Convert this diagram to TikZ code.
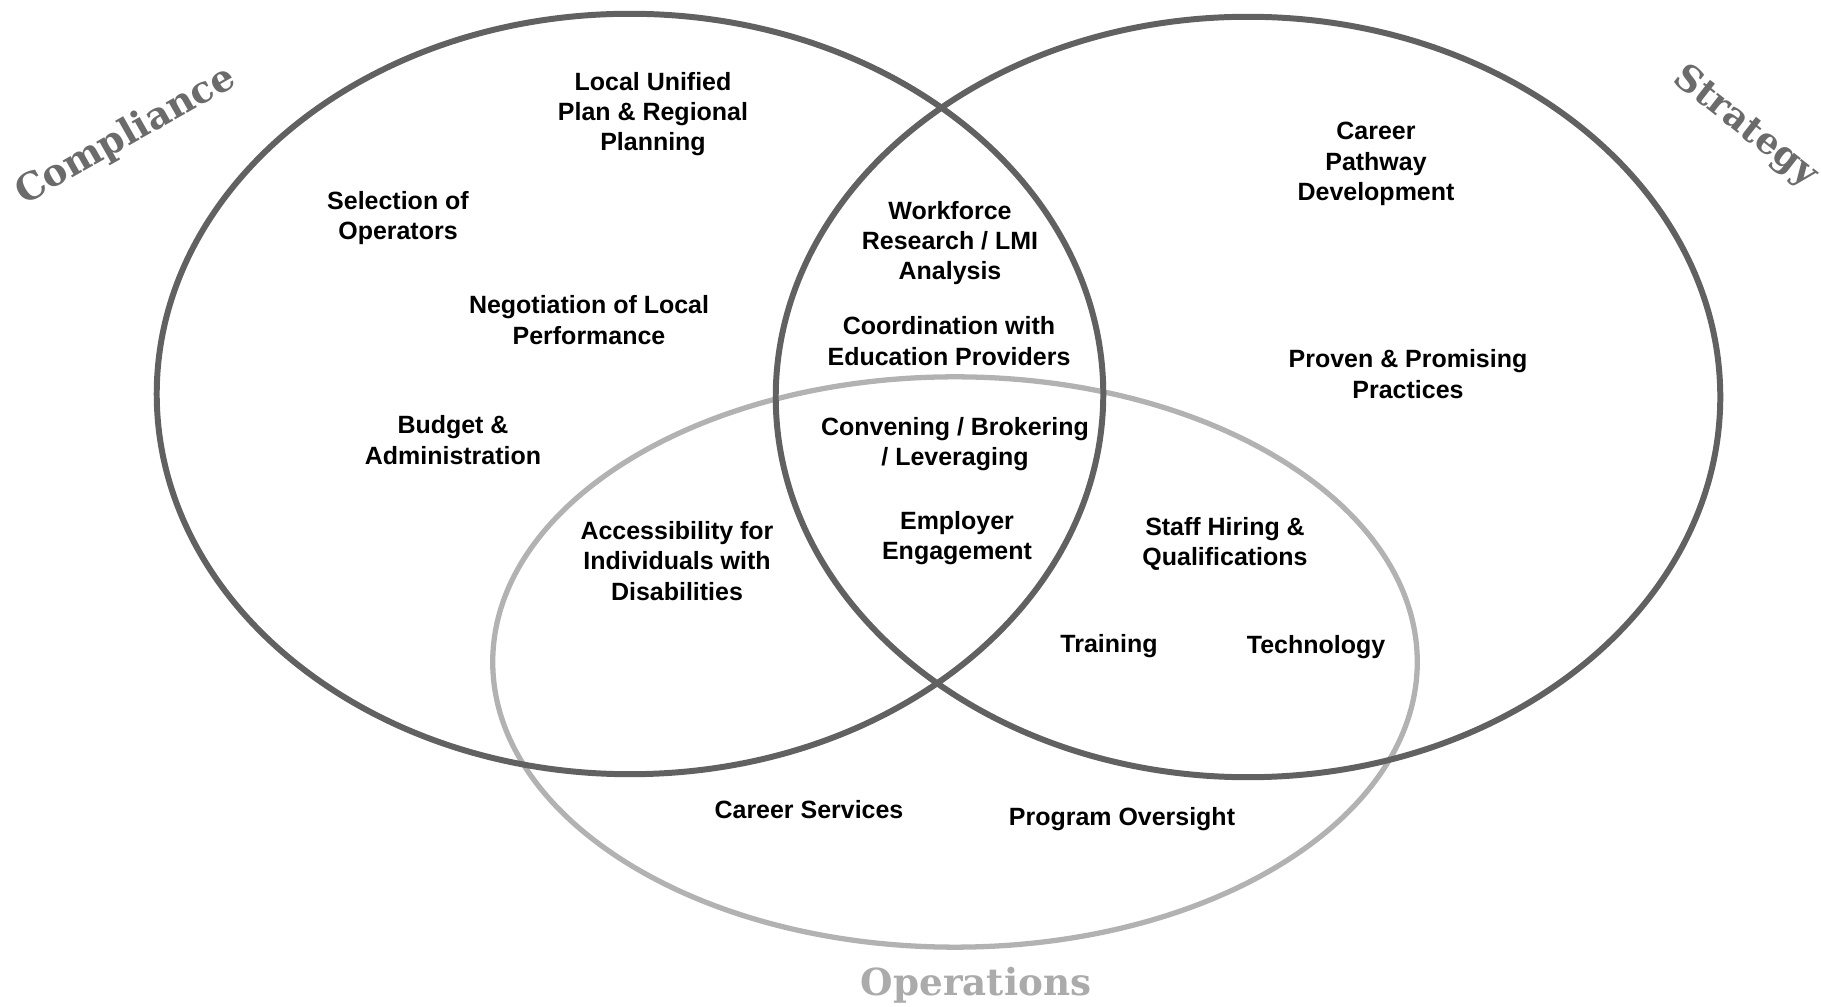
\documentclass[tikz,border=0pt]{standalone}
\usepackage{fontspec}
\setmainfont{Liberation Sans}
\newfontfamily\slabfont{DejaVu Serif}
\usepackage{xcolor}
\usepackage{tikz}

\begin{document}
\begin{tikzpicture}[
  x=0.01cm, y=-0.01cm,
  ring/.style={line width=1.7pt, draw=black!62},
  opring/.style={line width=1.5pt, draw=black!30},
  item/.style={font=\fontsize{7.1}{8.6}\selectfont\bfseries, align=center, inner sep=1pt},
  title/.style={font=\fontsize{10.6}{12}\slabfont\bfseries, text=black!58, inner sep=0pt},
]
\useasboundingbox (0,0) rectangle (1821,1007);
% the three sets
\draw[opring] (955,662) ellipse [x radius=4.62cm, y radius=2.85cm];
\draw[ring] (630,394) ellipse [x radius=4.73cm, y radius=3.8cm];
\draw[ring] (1248,397) ellipse [x radius=4.72cm, y radius=3.8cm];

\node[title, rotate=29.5] (compliance) at (126,136) {Compliance};
\node[title, font=\fontsize{10.3}{12}\slabfont\bfseries, rotate=-38] (strategy) at (1745,127) {Strategy};
\node[title, text=black!33, anchor=base] (operations) at (976,996) {Operations};

% compliance only
\node[item] (plan) at (653,114) {Local Unified\\Plan \& Regional\\Planning};
\node[item] (operators) at (398,218) {Selection of\\Operators};
\node[item] (negotiation) at (589,320) {Negotiation of Local\\Performance};
\node[item] (budget) at (453,440) {Budget \&\\Administration};
% compliance + strategy
\node[item] (research) at (950,243) {Workforce\\Research / LMI\\Analysis};
\node[item] (education) at (949,341) {Coordination with\\Education Providers};
% all three
\node[item] (convening) at (955,444) {Convening / Brokering\\/ Leveraging};
\node[item] (employer) at (957,538) {Employer\\Engagement};
% compliance + operations
\node[item] (access) at (677,561) {Accessibility for\\Individuals with\\Disabilities};
% strategy + operations
\node[item] (staff) at (1225,544) {Staff Hiring \&\\Qualifications};
\node[item] (training) at (1109,646) {Training};
\node[item] (technology) at (1316,647) {Technology};
% operations only
\node[item] (services) at (809,810) {Career Services};
\node[item] (oversight) at (1122,819) {Program Oversight};
% strategy only
\node[item] (pathway) at (1376,164) {Career\\Pathway\\Development};
\node[item] (practices) at (1408,374) {Proven \& Promising\\Practices};
\end{tikzpicture}
\end{document}
